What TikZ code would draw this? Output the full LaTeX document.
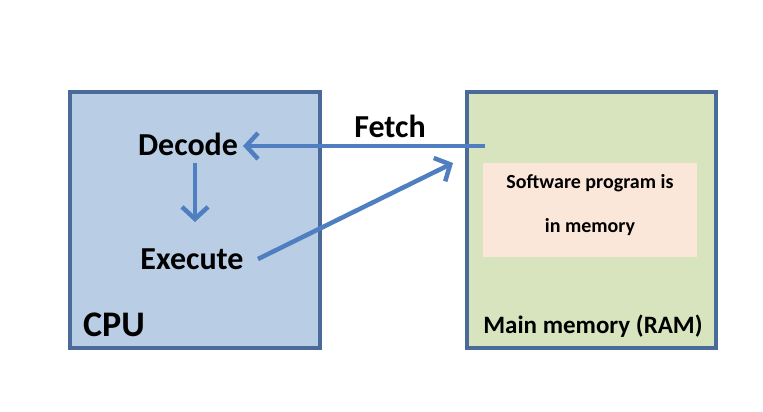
\documentclass[tikz,border=0pt]{standalone}
\usepackage{fontspec}
\setmainfont{Carlito}
\usetikzlibrary{arrows.meta}
\definecolor{cpufill}{HTML}{B9CDE5}
\definecolor{ramfill}{HTML}{D7E4BD}
\definecolor{boxline}{HTML}{4A6A9A}
\definecolor{pinkfill}{HTML}{FBE7DA}
\definecolor{arrowcol}{HTML}{4F7FC0}
\tikzset{
  bigbox/.style={draw=boxline, line width=3.5pt},
  lbl/.style={font=\bfseries\fontsize{32}{38}\selectfont, inner sep=0pt},
  small/.style={font=\bfseries\fontsize{20}{24}\selectfont, inner sep=0pt},
  arr/.style={draw=arrowcol, line width=4.5pt, -{Straight Barb[length=12pt,width=26pt,line width=4.5pt]}},
}
\begin{document}
\begin{tikzpicture}[x=1pt,y=-1pt]
\useasboundingbox (0,0) rectangle (763,412);
\fill[white] (0,0) rectangle (763,412);
\draw[bigbox, fill=cpufill] (70,92) rectangle (320,348);
\draw[bigbox, fill=ramfill] (467,92) rectangle (716,348);
\fill[pinkfill] (483,163) rectangle (697,257);
\node[lbl] (decode) at (188,144) {Decode};
\node[lbl] (execute) at (192,259) {Execute};
\node[lbl, font=\bfseries\fontsize{36}{40}\selectfont] (cpu) at (114,325) {CPU};
\node[lbl] (fetch) at (390,126) {Fetch};
\node[small, font=\bfseries\fontsize{25}{30}\selectfont] (ram) at (593,326) {Main memory (RAM)};
\node[small] (sw) at (590,183) {Software program is};
\node[small] (mem) at (590,227) {in memory};
\coordinate (fstart) at (485,146);
\coordinate (etarget) at (453,163);
\draw[arr] (fstart) -- (243,146);
\draw[arr] (195,163) -- (195,222);
\draw[arr] (258,259) -- (etarget);
\end{tikzpicture}
\end{document}
